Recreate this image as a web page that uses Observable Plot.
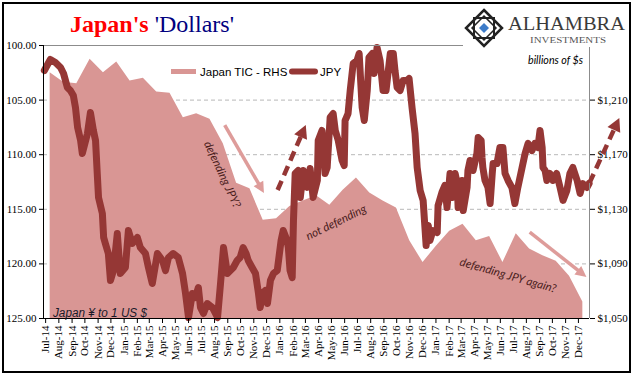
<!DOCTYPE html>
<html><head><meta charset="utf-8">
<script src="https://cdn.jsdelivr.net/npm/d3@7"></script>
<script src="https://cdn.jsdelivr.net/npm/@observablehq/plot@0.6"></script>
<style>body{margin:0;background:#fff} #chart{position:relative;width:641px;height:381px}</style>
</head><body><div id="chart"></div>
<script>
// ---- data ----
const axisStart = "2014-06-26";
const axisEnd = "2017-12-27";
const ticFirstMonth = "2014-07-01";
const ticLastMonthExclusive = "2017-12-01";
// Japan TIC holdings, billions of $ (Jul-14 .. Nov-17)
const ticValues = [1230,1223,1222,1240,1230,1238,1224,1226,1216,1215,1197,1200,1196,1178,1149,1145,1122,1123,1132,1136,1140,1133,1144,1153,1142,1136,1131,1107,1091,1103,1114,1119,1107,1110,1091,1112,1101,1096,1092,1081,1062];
// JPY per USD: days after axisStart, and values
const jpyDays = [2,16,28,40,47,56,63,70,75,80,87,91,103,110,117,122,126,129,138,141,145,152,157,164,173,180,192,199,208,220,227,239,246,255,267,279,286,293,304,316,326,333,340,349,356,363,368,375,384,396,408,415,422,431,438,445,454,461,468,475,480,489,497,504,508,513,520,525,532,539,548,557,562,571,574,578,583,586,590,597,602,609,618,625,632,642,644,653,660,665,672,679,684,691,700,705,707,714,719,726,735,740,747,752,759,763,771,775,782,789,796,803,813,820,824,829,836,843,852,857,864,871,876,883,890,897,902,906,913,923,925,934,941,946,953,958,965,970,972,981,984,993,995,1000,1007,1016,1019,1026,1028,1030,1035,1042,1047,1052,1054,1063,1070,1077,1082,1089,1098,1105,1112,1122,1129,1136,1145,1152,1159,1164,1169,1171,1176,1180,1187,1194,1203,1211,1218,1227,1234,1241,1251,1258,1264,1274,1279];
const jpyValues = [102.29,101.28,101.56,102.01,102.56,103.85,104.12,104.58,105.68,107.51,108.70,109.89,108.06,106.14,107.78,108.70,111.72,113.92,115.39,117.58,118.13,119.05,121.52,120.61,117.22,120.88,120.33,116.94,118.13,117.58,118.50,119.05,120.33,121.80,119.05,119.69,120.61,119.42,119.05,119.42,120.88,122.71,124.91,122.71,123.08,122.16,123.99,124.54,123.63,123.99,124.91,121.80,118.50,120.88,120.61,120.33,119.69,119.42,118.50,119.05,119.69,120.33,120.88,122.71,123.99,122.71,122.44,123.63,121.52,120.88,120.61,117.86,116.94,117.86,118.50,120.61,121.25,116.03,111.72,111.45,113.92,111.45,113.00,111.26,113.92,112.36,108.70,107.78,111.72,111.17,106.59,106.23,107.78,108.70,110.53,110.99,106.87,106.23,104.12,101.65,101.37,100.73,105.68,106.87,104.12,101.10,100.73,102.56,100.18,101.37,104.12,104.12,100.73,100.73,102.29,103.85,104.12,103.21,103.21,103.02,105.68,108.06,111.17,113.28,114.19,118.32,116.48,117.86,116.94,117.13,114.65,113.46,112.82,114.84,111.72,113.92,111.72,112.64,114.84,112.36,115.11,113.00,111.45,110.53,111.45,109.89,108.43,108.70,110.26,111.17,112.36,113.00,114.47,111.72,110.81,110.81,109.34,109.34,111.72,112.36,113.00,114.47,113.00,111.17,109.89,108.97,109.62,108.97,109.34,107.78,109.34,111.17,111.45,112.36,111.72,112.36,111.72,113.00,114.19,113.28,111.72,111.17,112.36,113.55,112.64,113.00,112.64];
const leftTicks = [100,105,110,115,120,125];
const gridTicks = [105,110,115,120];
const rightTicks = [1050,1090,1130,1170,1210];
const rightTop = 1250, rightBottom = 1050;
const leftTop = 100, leftBottom = 125;
// annotations: [day after axisStart, JPY-axis value]
const arrowNotes = [
  {from:[426,107.33], to:[518,113.55], kind:"pink"},
  {from:[550,113.28], to:[616,107.33], kind:"dash"},
  {from:[1141,117.13], to:[1274,121.25], kind:"pink"},
  {from:[1281,112.64], to:[1351,106.69], kind:"dash"}
];
const textNotes = [
  {text:"defending JPY?", day:419, value:111.81, angle:65},
  {text:"not defending", day:686, value:116.21, angle:-26},
  {text:"defending JPY again?", day:1089, value:121.06, angle:16}
];

// ---- build ----
const parse = d3.utcParse("%Y-%m-%d");
const x0 = parse(axisStart), x1 = parse(axisEnd);
const toLeft = v => leftTop + (rightTop - v) * (leftBottom - leftTop) / (rightTop - rightBottom);
const fromLeft = y => rightTop - (y - leftTop) * (rightTop - rightBottom) / (leftBottom - leftTop);
const ticMonths = d3.utcMonth.range(parse(ticFirstMonth), parse(ticLastMonthExclusive));
const n = ticValues.length;
const tic = ticValues.map((v, i) => ({month: ticMonths[i], date: new Date(+x0 + (i + 0.5) / n * (x1 - x0)), value: v, y: toLeft(v)}));
const jpy = jpyDays.map((d, i) => ({date: d3.utcDay.offset(x0, d), value: jpyValues[i]}));
const monthTicks = d3.utcMonth.range(parse("2014-07-01"), parse("2017-12-02"));
const serif = "'Liberation Serif','Times New Roman',serif";

const plot = Plot.plot({
  width: 641, height: 381,
  marginLeft: 43, marginRight: 52, marginTop: 45, marginBottom: 63,
  style: {background: "#fff", fontFamily: serif, fontSize: "11px", color: "#000", overflow: "visible"},
  x: {type: "utc", domain: [x0, x1]},
  y: {domain: [leftTop, leftBottom], reverse: true},
  marks: [
    Plot.ruleY(gridTicks, {stroke: "#b8b8b8", strokeDasharray: "4,3", strokeWidth: 1}),
    Plot.areaY(tic, {x: "date", y1: leftBottom, y2: "y", fill: "#D99694"}),
    Plot.line(jpy, {x: "date", y: "value", stroke: "#953735", strokeWidth: 7, strokeLinejoin: "round", strokeLinecap: "round"}),
    Plot.ruleY([leftTop], {stroke: "#8c8c8c"}),
    Plot.ruleY([leftBottom], {stroke: "#000"}),
    Plot.ruleX([x0], {stroke: "#000"}),
    Plot.ruleX([x1], {stroke: "#8c8c8c"}),
    Plot.text(textNotes, {x: d => d3.utcDay.offset(x0, d.day), y: "value", text: "text", rotate: "angle", fontStyle: "italic", fill: "#4a1c1c", fontSize: 11.5, fontFamily: "Lato, 'Liberation Sans', sans-serif"}),
    Plot.axisY({anchor: "left", ticks: leftTicks, tickFormat: d3.format(".2f"), tickSize: 4, tickPadding: 3, label: null, fontFamily: serif, fontSize: 11}),
    Plot.axisY({anchor: "right", ticks: rightTicks.map(toLeft), tickFormat: v => "$" + d3.format(",")(Math.round(fromLeft(v))), tickSize: 5, tickPadding: 3, label: null, fontFamily: serif, fontSize: 11}),
    Plot.axisX({ticks: monthTicks, tickFormat: d3.utcFormat("%b-%y"), tickRotate: -90, tickSize: 5, tickPadding: 2, label: null, fontFamily: serif, fontSize: 11})
  ]
});
document.getElementById("chart").appendChild(plot);

const svg = d3.select(plot);
const X = plot.scale("x"), Y = plot.scale("y");
const px = d => X.apply(d3.utcDay.offset(x0, d));
const py = v => Y.apply(v);

// arrows
const ag = svg.append("g");
for (const a of arrowNotes) {
  const xa = px(a.from[0]), ya = py(a.from[1]), xb = px(a.to[0]), yb = py(a.to[1]);
  const ang = Math.atan2(yb - ya, xb - xa), c = Math.cos(ang), s = Math.sin(ang);
  const dash = a.kind === "dash";
  const color = dash ? "#953735" : "#DE9C9A";
  const L = dash ? 13 : 11, W = dash ? 7 : 5.5;
  const bx = xb - L * c, by = yb - L * s;
  ag.append("line").attr("x1", xa).attr("y1", ya).attr("x2", bx + 2 * c).attr("y2", by + 2 * s)
    .attr("stroke", color).attr("stroke-width", dash ? 4.5 : 3.5).attr("stroke-dasharray", dash ? "10,6" : null);
  ag.append("polygon").attr("points", `${xb},${yb} ${bx - W * s},${by + W * c} ${bx + W * s},${by - W * c}`).attr("fill", color);
}

const extra = svg.append("g").attr("text-anchor", "start");

// legend
extra.append("line").attr("x1", 171).attr("x2", 196).attr("y1", 71.5).attr("y2", 71.5).attr("stroke", "#D99694").attr("stroke-width", 5);
extra.append("text").attr("x", 200).attr("y", 75.5).attr("font-family", "'Liberation Sans',Arial,sans-serif").attr("font-size", 11.5).attr("fill", "#000").text("Japan TIC - RHS");
extra.append("line").attr("x1", 292).attr("x2", 315).attr("y1", 71.5).attr("y2", 71.5).attr("stroke", "#953735").attr("stroke-width", 6).attr("stroke-linecap", "round");
extra.append("text").attr("x", 320).attr("y", 75.5).attr("font-family", "'Liberation Sans',Arial,sans-serif").attr("font-size", 11.5).attr("fill", "#000").text("JPY");

// inner captions
extra.append("text").attr("x", 53).attr("y", 317).attr("font-family", "'Liberation Sans',Arial,sans-serif").attr("font-style", "italic").attr("font-size", 12.5).attr("fill", "#1a1a2a").attr("textLength", 94).attr("lengthAdjust", "spacingAndGlyphs").text("Japan ¥ to 1 US $");
extra.append("text").attr("x", 528).attr("y", 64).attr("font-family", "Lato,'Liberation Sans',sans-serif").attr("font-style", "italic").attr("font-size", 10.5).attr("fill", "#000").attr("textLength", 55).attr("lengthAdjust", "spacingAndGlyphs").text("billions of $s");

// title
const t = extra.append("text").attr("x", 70).attr("y", 32).attr("font-family", serif).attr("font-size", 24);
t.append("tspan").attr("font-weight", "bold").attr("fill", "#ff0000").text("Japan's");
t.append("tspan").attr("fill", "#000080").text(" 'Dollars'");

// logo
const lo = extra.append("g");
lo.append("rect").attr("x", 463).attr("y", 5).attr("width", 165).attr("height", 42).attr("fill", "#fff");
const cx = 484, cy = 28;
lo.append("path").attr("d", `M${cx},${cy-18}L${cx+18},${cy}L${cx},${cy+18}L${cx-18},${cy}Z`).attr("fill", "none").attr("stroke", "#222").attr("stroke-width", 2.5);
lo.append("rect").attr("x", cx - 10).attr("y", cy - 10).attr("width", 20).attr("height", 20).attr("fill", "none").attr("stroke", "#222").attr("stroke-width", 2);
lo.append("path").attr("d", `M${cx},${cy-12}L${cx+12},${cy}L${cx},${cy+12}L${cx-12},${cy}Z`).attr("fill", "none").attr("stroke", "#222").attr("stroke-width", 1.5);
lo.append("path").attr("d", `M${cx},${cy-5}L${cx+5},${cy}L${cx},${cy+5}L${cx-5},${cy}Z`).attr("fill", "#3d7cc9");
lo.append("text").attr("x", 508).attr("y", 30).attr("font-family", serif).attr("font-size", 19).attr("fill", "#3a3a3a").attr("textLength", 117).attr("lengthAdjust", "spacingAndGlyphs").text("ALHAMBRA");
lo.append("text").attr("x", 530).attr("y", 43).attr("font-family", serif).attr("font-size", 9).attr("fill", "#555").attr("textLength", 76).attr("lengthAdjust", "spacingAndGlyphs").text("INVESTMENTS");

// outer frame
svg.append("rect").attr("x", 3).attr("y", 3).attr("width", 627).attr("height", 369).attr("fill", "none").attr("stroke", "#000").attr("stroke-width", 2);
</script>
</body></html>
